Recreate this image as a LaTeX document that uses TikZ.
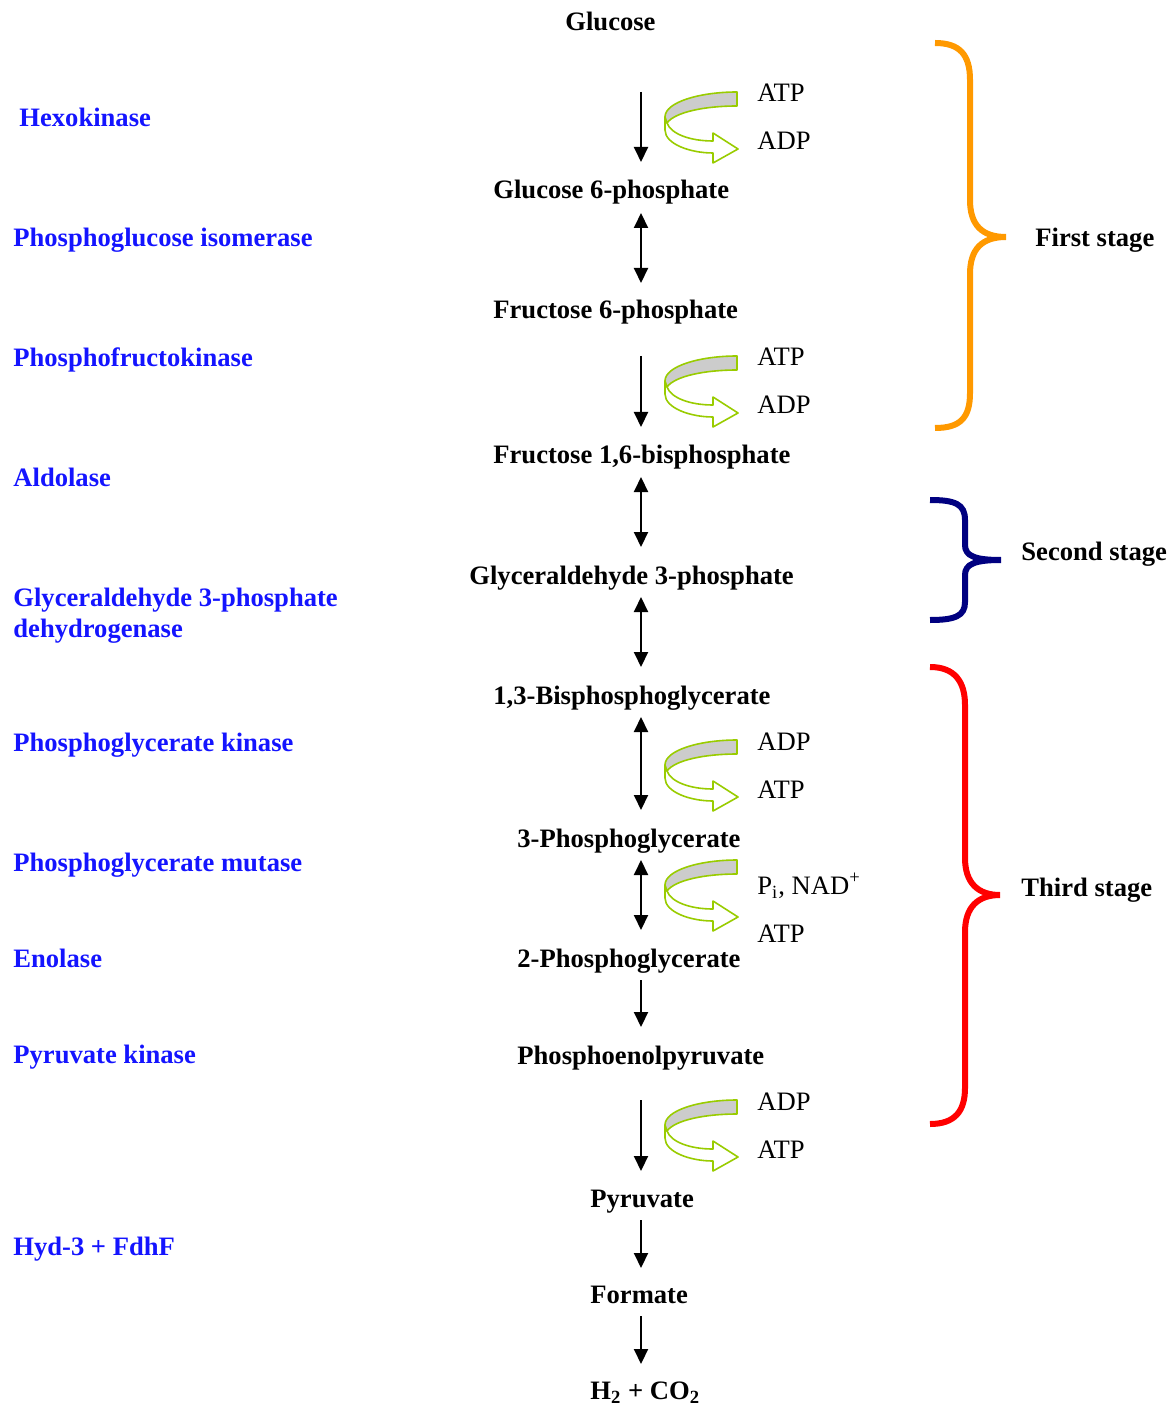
\documentclass[tikz,border=0pt]{standalone}
\usepackage{fontspec}
\setmainfont{Liberation Serif}
\usetikzlibrary{arrows.meta}
\definecolor{enz}{RGB}{20,20,255}
\definecolor{lime}{RGB}{153,204,0}
\definecolor{bandgrey}{RGB}{204,204,204}
\definecolor{orangeb}{RGB}{255,153,0}
\definecolor{navyb}{RGB}{0,0,128}
\definecolor{redb}{RGB}{255,0,0}
\tikzset{
  cpd/.style={anchor=base west,inner sep=0pt,font=\fontsize{13.3pt}{15.5pt}\selectfont\bfseries},
  enzyme/.style={cpd,text=enz},
  stagelbl/.style={cpd},
  cof/.style={anchor=base west,inner sep=0pt,font=\fontsize{13.3pt}{15.5pt}\selectfont},
  fwd/.style={line width=1pt,-{Triangle[length=7.5pt,width=7pt]}},
  rev/.style={line width=1pt,{Triangle[length=7.5pt,width=7pt]}-{Triangle[length=7.5pt,width=7pt]}},
  bracepath/.style={line width=3pt,line cap=butt},
  recycle/.pic={
    \draw[lime,line width=0.8pt,fill=white,line join=round]
      (0,25) -- (0,38) .. controls (0,52) and (25,61) .. (48,61) -- (48,71) -- (73,57)
      -- (48,41) -- (48,49) .. controls (25,49) and (6,42) .. (2,31) -- cycle;
    \draw[lime,line width=0.8pt,fill=bandgrey,line join=round]
      (72,0) .. controls (35,0) and (0,10) .. (0,25) -- (2,31)
      .. controls (10,20) and (40,14) .. (72,14) -- cycle;
  }
}
\begin{document}
\begin{tikzpicture}[x=0.5pt,y=-0.5pt]
\useasboundingbox (0,0) rectangle (1176,1406);
% compounds
\node[cpd] (glc) at (565,31) {Glucose};
\node[cpd] (g6p) at (493,199) {Glucose 6-phosphate};
\node[cpd] (f6p) at (493,319) {Fructose 6-phosphate};
\node[cpd] (fbp) at (493,464) {Fructose 1,6-bisphosphate};
\node[cpd] (gap) at (469,584) {Glyceraldehyde 3-phosphate};
\node[cpd] (bpg) at (493,704) {1,3-Bisphosphoglycerate};
\node[cpd] (pgt) at (517,847) {3-Phosphoglycerate};
\node[cpd] (pgd) at (517,967) {2-Phosphoglycerate};
\node[cpd] (pep) at (517,1064) {Phosphoenolpyruvate};
\node[cpd] (pyr) at (590,1207) {Pyruvate};
\node[cpd] (frm) at (590,1303) {Formate};
\node[cpd] (hco) at (590,1399) {H\textsubscript{2} + CO\textsubscript{2}};
% enzymes
\node[enzyme] (e1) at (19,127) {Hexokinase};
\node[enzyme] (e2) at (13,247) {Phosphoglucose isomerase};
\node[enzyme] (e3) at (13,367) {Phosphofructokinase};
\node[enzyme] (e4) at (13,487) {Aldolase};
\node[enzyme,anchor=west,align=left] (e5) at (13,616) {Glyceraldehyde 3-phosphate\\dehydrogenase};
\node[enzyme] (e6) at (13,751) {Phosphoglycerate kinase};
\node[enzyme] (e7) at (13,871) {Phosphoglycerate mutase};
\node[enzyme] (e8) at (13,967) {Enolase};
\node[enzyme] (e9) at (13,1063) {Pyruvate kinase};
\node[enzyme] (e10) at (13,1255) {Hyd-3 + FdhF};
% arrow end points
\coordinate (a1s) at (641,92);  \coordinate (a1e) at (641,162);
\coordinate (a2s) at (641,213); \coordinate (a2e) at (641,283);
\coordinate (a3s) at (641,356); \coordinate (a3e) at (641,427);
\coordinate (a4s) at (641,477); \coordinate (a4e) at (641,547);
\coordinate (a5s) at (641,597); \coordinate (a5e) at (641,667);
\coordinate (a6s) at (641,717); \coordinate (a6e) at (641,810);
\coordinate (a7s) at (641,860); \coordinate (a7e) at (641,930);
\coordinate (a8s) at (641,980); \coordinate (a8e) at (641,1027);
\coordinate (a9s) at (641,1100); \coordinate (a9e) at (641,1171);
\coordinate (a10s) at (641,1220); \coordinate (a10e) at (641,1268);
\coordinate (a11s) at (641,1316); \coordinate (a11e) at (641,1364);
\draw[fwd] (a1s) -- (a1e);
\draw[rev] (a2s) -- (a2e);
\draw[fwd] (a3s) -- (a3e);
\draw[rev] (a4s) -- (a4e);
\draw[rev] (a5s) -- (a5e);
\draw[rev] (a6s) -- (a6e);
\draw[rev] (a7s) -- (a7e);
\draw[fwd] (a8s) -- (a8e);
\draw[fwd] (a9s) -- (a9e);
\draw[fwd] (a10s) -- (a10e);
\draw[fwd] (a11s) -- (a11e);
% cofactor ribbons
\pic at (665,92) {recycle};
\pic at (665,356) {recycle};
\pic at (665,740) {recycle};
\pic at (665,860) {recycle};
\pic at (665,1100) {recycle};
% cofactors
\node[cof] (c1a) at (757,102) {ATP};
\node[cof] (c1b) at (757,150) {ADP};
\node[cof] (c2a) at (757,366) {ATP};
\node[cof] (c2b) at (757,414) {ADP};
\node[cof] (c3a) at (757,750) {ADP};
\node[cof] (c3b) at (757,798) {ATP};
\node[cof] (c4a) at (757,894) {P\textsubscript{i}, NAD\textsuperscript{+}};
\node[cof] (c4b) at (757,942) {ATP};
\node[cof] (c5a) at (757,1110) {ADP};
\node[cof] (c5b) at (757,1158) {ATP};
% braces
\draw[bracepath,orangeb] (935,43) .. controls (960,43) and (970,55) .. (970,80) -- (970,200)
  .. controls (970,225) and (982,237) .. (1006,237)
  .. controls (982,237) and (970,249) .. (970,274) -- (970,393)
  .. controls (970,418) and (960,428) .. (935,428);
\draw[bracepath,navyb] (930,500) .. controls (955,500) and (965,504) .. (965,520) -- (965,545)
  .. controls (965,556) and (975,560) .. (1001,560)
  .. controls (975,560) and (965,564) .. (965,575) -- (965,602)
  .. controls (965,616) and (955,620) .. (930,620);
\draw[bracepath,redb] (930,667) .. controls (955,667) and (965,682) .. (965,705) -- (965,858)
  .. controls (965,883) and (978,895) .. (1000,895)
  .. controls (978,895) and (965,907) .. (965,932) -- (965,1088)
  .. controls (965,1111) and (955,1124) .. (930,1124);
% stages
\node[stagelbl] (s1) at (1035,247) {First stage};
\node[stagelbl] (s2) at (1021,560) {Second stage};
\node[stagelbl] (s3) at (1021,896) {Third stage};
\end{tikzpicture}
\end{document}
